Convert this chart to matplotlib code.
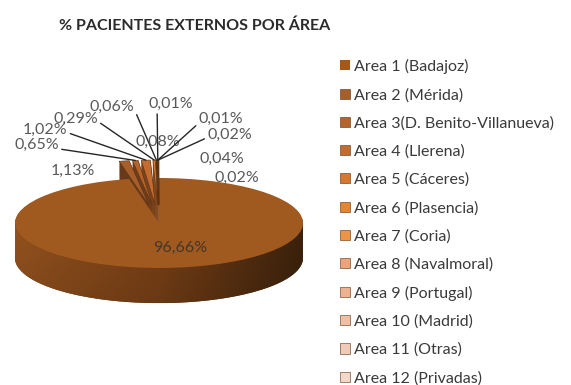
import numpy as np
import matplotlib
matplotlib.use("Agg")
import matplotlib.pyplot as plt
from matplotlib.path import Path
from matplotlib.patches import PathPatch
from matplotlib.colors import to_rgb

plt.rcParams['font.family'] = ['Lato', 'DejaVu Sans']

areas = ["Area 1 (Badajoz)", "Area 2 (Mérida)", "Area 3(D. Benito-Villanueva)",
         "Area 4 (Llerena)", "Area 5 (Cáceres)", "Area 6 (Plasencia)",
         "Area 7 (Coria)", "Area 8 (Navalmoral)", "Area 9 (Portugal)",
         "Area 10 (Madrid)", "Area 11 (Otras)", "Area 12 (Privadas)"]
pct = [96.66, 1.13, 0.65, 1.02, 0.29, 0.06, 0.08, 0.01, 0.01, 0.02, 0.04, 0.02]
pct_labels = ["96,66%", "1,13%", "0,65%", "1,02%", "0,29%", "0,06%",
              "0,08%", "0,01%", "0,01%", "0,02%", "0,04%", "0,02%"]

colors = ["#A0591F", "#A65E2B", "#B5632B", "#C46C30", "#D6792F", "#E38634",
          "#EE9446", "#ECA57B", "#EEB290", "#EFC0A6", "#F1CBB9", "#F3D7CB"]

# label placement (data units of the squashed pie axes) and leader-line anchor on text
label_pos = [(0.15, -0.56), (-0.60, 1.16), (-0.85, 1.74), (-0.79, 2.07),
             (-0.58, 2.32), (-0.33, 2.58), (-0.01, 1.80), (0.08, 2.64),
             (0.43, 2.31), (0.49, 1.96), (0.44, 1.42), (0.54, 1.00)]
leader_rel = [None, None, (1, 0.2), (1, 0.3), (1, 0.3), (1, 0.4), None,
              (0.2, 0.0), (0, 0.2), (0, 0.3), None, None]

depth = 0.78
n_layers = 36
explode = [0 if v > 50 else 0.4 for v in pct]

fig = plt.figure(figsize=(5.71, 3.85), dpi=100)
ax = fig.add_axes([0, 0, 330 / 571, 1])

side_colors = [tuple(c * 0.62 for c in to_rgb(col)) for col in colors]

# extruded side: stack of pies stepping downward
for k in range(n_layers, 0, -1):
    layer, _ = ax.pie(pct, colors=side_colors, startangle=90, counterclock=False,
                      explode=explode, center=(0, -depth * k / n_layers),
                      wedgeprops=dict(linewidth=0))
    for w in layer:
        w.set_zorder(1)

# shaded front rim of the big slice
t = np.linspace(np.pi, 2 * np.pi, 200)
rim_x = np.concatenate([np.cos(t), np.cos(t[::-1])])
rim_y = np.concatenate([np.sin(t), np.sin(t[::-1]) - depth])
rim = PathPatch(Path(np.column_stack([rim_x, rim_y])), facecolor='none',
                edgecolor='none')
ax.add_patch(rim)
gx = np.linspace(0, 1, 256)
left_c = np.array([148, 82, 30]) / 255
mid_c = np.array([120, 64, 22]) / 255
right_c = np.array([60, 34, 12]) / 255
row = np.where(gx[:, None] < 0.5,
               left_c + (mid_c - left_c) * (gx[:, None] / 0.5),
               mid_c + (right_c - mid_c) * ((gx[:, None] - 0.5) / 0.5))
shade = np.linspace(1.0, 0.88, 40)[:, None, None]
grad = np.clip(row[None, :, :] * shade, 0, 1)
img = ax.imshow(grad, extent=(-1, 1, -1 - depth, 0), origin='upper',
                aspect='auto', interpolation='bilinear', zorder=2)
img.set_clip_path(rim)

# top surface
wedges, _ = ax.pie(pct, colors=colors, startangle=90, counterclock=False,
                   explode=explode, wedgeprops=dict(linewidth=0))
for w in wedges:
    w.set_zorder(3)
for w in wedges[1:]:
    w.set_edgecolor("#5a3010")
    w.set_linewidth(0.4)

# data labels with leader lines to the outer arc of each slice
for i, w in enumerate(wedges):
    tx, ty = label_pos[i]
    if leader_rel[i] is None:
        ax.text(tx, ty, pct_labels[i], ha='center', va='center', fontsize=11.5,
                color='#595959' if i else '#45362a', zorder=6)
        continue
    mid = np.deg2rad((w.theta1 + w.theta2) / 2)
    cx, cy = w.center
    anchor = (cx + w.r * np.cos(mid), cy + w.r * np.sin(mid))
    ax.annotate(pct_labels[i], xy=anchor, xytext=(tx, ty), ha='center',
                va='center', fontsize=11.5, color='#595959', zorder=6,
                arrowprops=dict(arrowstyle='-', color='#262626', lw=1.0,
                                relpos=leader_rel[i], shrinkA=0, shrinkB=0))

ax.set_aspect('auto')
ax.set_xlim(-159 / 144, 171 / 144)
ax.set_ylim(-162 / 45, 223 / 45)
ax.axis('off')

fig.text(195 / 571, 1 - 26 / 385, "% PACIENTES EXTERNOS POR ÁREA",
         ha='center', va='center', fontsize=11.5, fontweight='bold',
         color='#2b2b2b')

fig.legend(wedges, areas, loc='upper left',
           bbox_to_anchor=(332 / 571, 1 - 51 / 385), frameon=False,
           fontsize=11.5, handlelength=0.6, handleheight=0.6,
           handletextpad=0.3, labelspacing=0.87, borderpad=0,
           labelcolor='#3a3a3a')

fig.savefig("out.png", dpi=100, facecolor='white')
